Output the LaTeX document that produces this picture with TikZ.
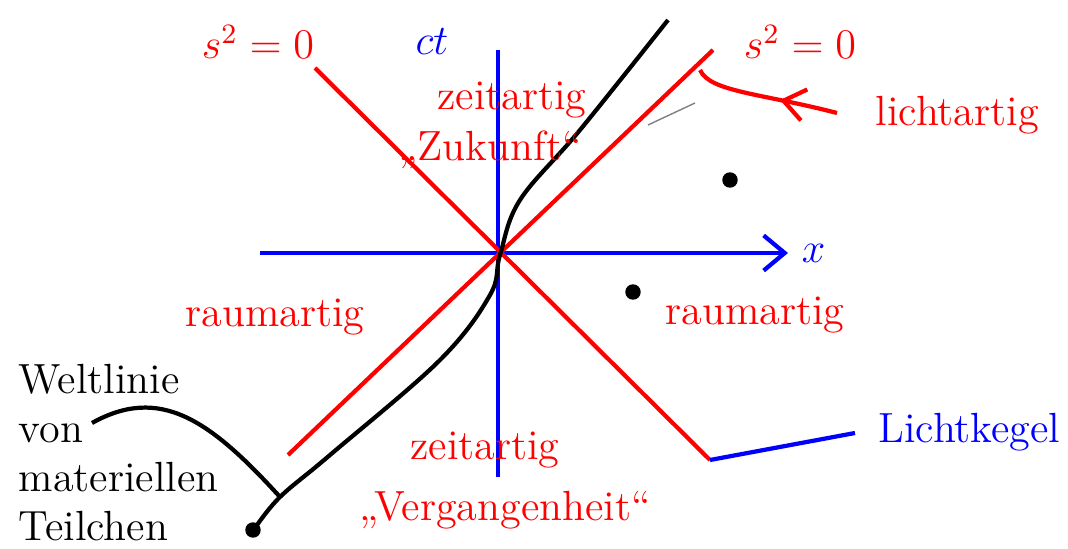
\documentclass[tikz,border=0pt]{standalone}
\usetikzlibrary{arrows.meta,decorations.markings}
\tikzset{redlbl/.style={red,font=\large}, bluelbl/.style={blue,font=\large},
  midarrow/.style={postaction={decorate},decoration={markings,mark=at position .4 with {\arrow{Straight Barb[length=6pt,width=9pt]}}}}}
\begin{document}
\begin{tikzpicture}[line width=1.2pt]
\useasboundingbox (0,0) rectangle (10.68,-5.49);
\coordinate (o) at (5,-2.55);
% axes
\draw[blue,-{Straight Barb[length=6pt,width=10pt]}] (2.6,-2.53)--(7.88,-2.53) node[right,font=\large] (xl) {$x$};
\draw[blue] (4.98,-.5)--(4.98,-4.77); \node[bluelbl] (ctl) at (4.32,-.42) {$ct$};
% light cone
\draw[red] (3.15,-.68) coordinate (a1)--(7.1,-4.6) coordinate (a2); \draw[red] (7.13,-.5) coordinate (b1)--(2.88,-4.55) coordinate (b2);
\node[redlbl] (sl) at (2.58,-.42) {$s^2=0$}; \node[redlbl] (sr) at (8.0,-.42) {$s^2=0$};
% world line
\draw plot[smooth,tension=.6] coordinates {(6.68,-.2) (5.8,-1.3) (5.2,-2.0) (5,-2.55) (4.9,-2.95) (4.4,-3.6) (3.3,-4.55) (2.8,-4.97) (2.55,-5.28)};
\coordinate (w) at (2.8,-4.97); \fill (2.53,-5.3) circle (2.2pt);
\fill (7.3,-1.8) circle (2.2pt); \fill (6.33,-2.92) circle (2.2pt);
\draw[gray,line width=.4pt] (6.48,-1.25)--(6.95,-1.03);
% regions
\node[redlbl] (zt) at (5.12,-1.0) {zeitartig}; \node[redlbl] (zk) at (4.9,-1.5) {,,Zukunft``};
\node[redlbl] (rl) at (2.75,-3.17) {raumartig}; \node[redlbl] (rr) at (7.55,-3.15) {raumartig};
\node[redlbl] (zb) at (4.85,-4.5) {zeitartig}; \node[redlbl] (vg) at (5.05,-5.1) {,,Vergangenheit``};
% pointers
\node[redlbl,anchor=west] (la) at (8.62,-1.15) {lichtartig};
\draw[red,midarrow] (8.37,-1.13) .. controls (7.6,-.93) and (7.1,-.92) .. (7.0,-.7);
\node[bluelbl,anchor=east,inner sep=1pt] (lk) at (10.66,-4.32) {Lichtkegel};
\draw[blue] (8.55,-4.33) -- (a2);
\node[anchor=north west,align=left,font=\large] (wl) at (.05,-3.5) {Weltlinie\\von\\materiellen\\Teilchen};
\draw (.92,-4.23) .. controls (1.6,-3.85) and (2.1,-4.2) .. (w);
\end{tikzpicture}
\end{document}
